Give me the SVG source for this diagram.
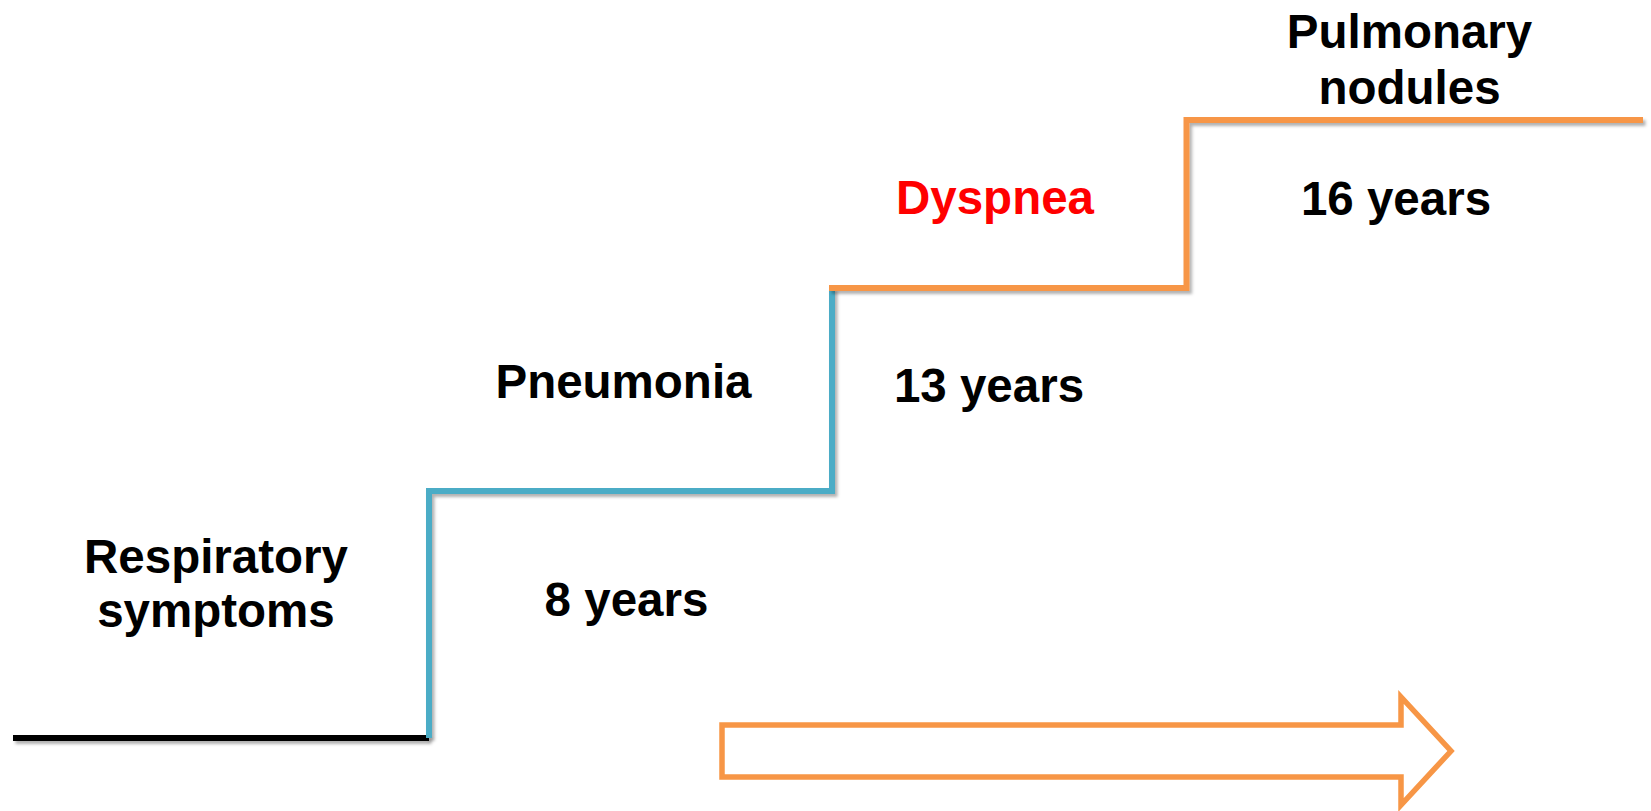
<svg xmlns="http://www.w3.org/2000/svg" width="1651" height="811" viewBox="0 0 1651 811">
  <style>
    .lbl { font-family: "Liberation Sans", Arial, sans-serif; font-weight: bold; font-size: 47.5px; fill: #000; text-anchor: middle; }
    .red { fill: #FF0000; }
    .step { fill: none; stroke-width: 6; stroke-linejoin: miter; stroke-linecap: butt; filter: url(#sh); }
  </style>
  <defs>
    <filter id="sh" filterUnits="userSpaceOnUse" x="0" y="0" width="1651" height="811">
      <feDropShadow dx="2.5" dy="3" stdDeviation="1.5" flood-color="#000" flood-opacity="0.3"/>
    </filter>
  </defs>
  <rect width="1651" height="811" fill="#fff"/>
  <g id="connectors">
    <path class="step" d="M13,738 H429" stroke="#000"/>
    <path class="step" d="M429,738 V491 H832 V288" stroke="#4BACC6"/>
    <path class="step" d="M829,288 H1186.5 V120 H1643" stroke="#F79646"/>
  </g>
  <g id="arrow">
    <polygon points="722,725 1401,725 1401,697 1451,751 1401,805 1401,777 722,777" fill="none" stroke="#F79646" stroke-width="5.5"/>
  </g>
  <g id="respiratory">
    <text class="lbl" x="216" y="573">Respiratory</text>
    <text class="lbl" x="216" y="627">symptoms</text>
  </g>
  <g id="pneumonia">
    <text class="lbl" x="623.5" y="397.5">Pneumonia</text>
  </g>
  <g id="years8">
    <text class="lbl" x="626.5" y="616">8 years</text>
  </g>
  <g id="dyspnea">
    <text class="lbl red" x="995" y="214">Dyspnea</text>
  </g>
  <g id="years13">
    <text class="lbl" x="989" y="401.5">13 years</text>
  </g>
  <g id="pulmonary">
    <text class="lbl" x="1409.5" y="48">Pulmonary</text>
    <text class="lbl" x="1409.5" y="103.5">nodules</text>
  </g>
  <g id="years16">
    <text class="lbl" x="1396" y="215">16 years</text>
  </g>
</svg>
